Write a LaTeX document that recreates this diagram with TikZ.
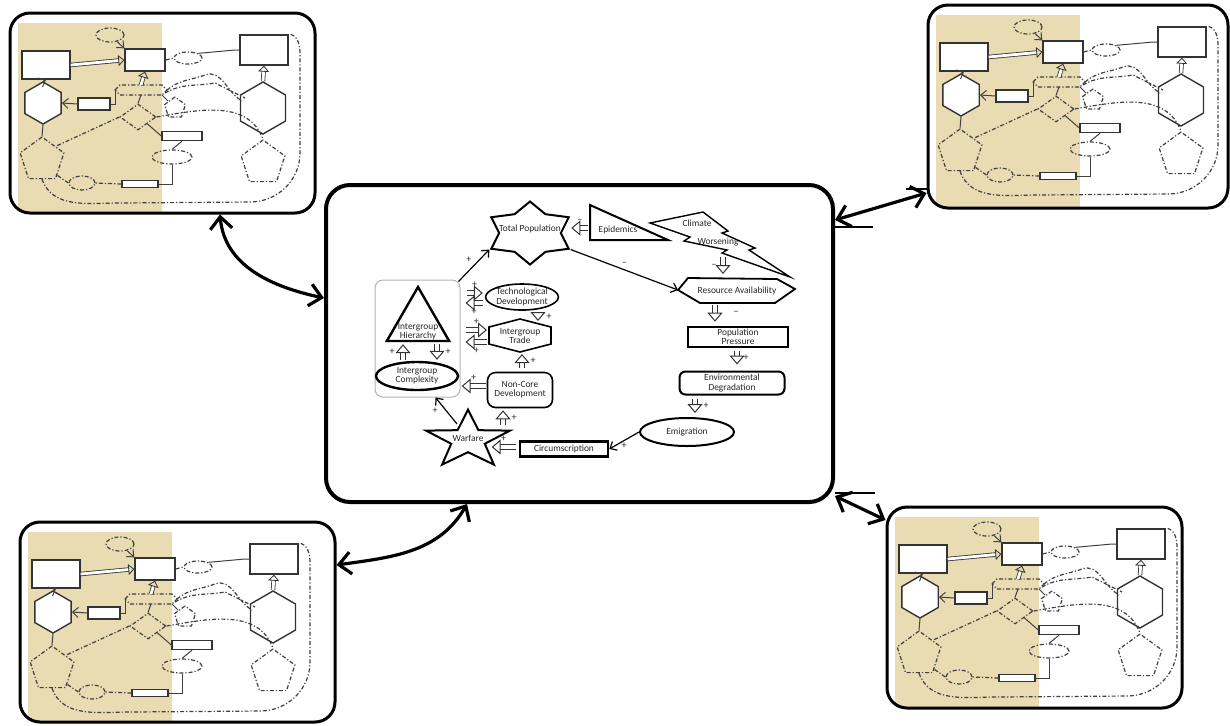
\documentclass[tikz,border=0pt]{standalone}
\usepackage{fontspec}
\setmainfont{Carlito}
\usetikzlibrary{arrows.meta,shapes.geometric}

\definecolor{sand}{RGB}{233,220,178}

\newcommand{\minimap}[2]{%
  \begin{scope}
    \clip[rounded corners=10pt] (0,0) rectangle (#1,#2);
    \fill[sand] (8,10) rectangle (152,#2);
  \end{scope}
  \node[mell,minimum width=14pt,minimum height=7pt] (me1) at (100,22) {};
  \node[mrect,minimum width=20pt,minimum height=11pt] (mr1) at (135,47) {};
  \node[mrect,minimum width=24pt,minimum height=14pt] (mr0) at (36,52) {};
  \node[mrect,minimum width=24pt,minimum height=15pt] (mrt) at (254,37) {};
  \node[mell,minimum width=14pt,minimum height=6pt] (me2) at (178,45) {};
  \draw[mdd] (105,77) -- (110,72) -- (152,72) -- (157,77) -- (152,82) -- (110,82) -- cycle;
  \coordinate (mh1) at (131,77);
  \node[mhex,minimum size=21pt] (mhl) at (33,90) {};
  \node[mrect,minimum width=16pt,minimum height=6pt] (mr2) at (84,91) {};
  \node[mpent,minimum size=11pt] (mp1) at (165,95) {};
  \node[mdia,minimum width=18pt,minimum height=13pt] (md1) at (128,104) {};
  \node[mrect,minimum width=20pt,minimum height=4.5pt] (mr3) at (172,123) {};
  \node[mpent,minimum size=23pt] (mpl) at (32,147) {};
  \node[mell,minimum width=20pt,minimum height=7pt] (me3) at (162,144) {};
  \node[mell,minimum width=13pt,minimum height=7pt] (me4) at (72,170) {};
  \node[mrect,minimum width=18pt,minimum height=3.5pt] (mr4) at (130,171) {};
  \node[mhex,minimum size=26pt] (mhr) at (253,95) {};
  \node[mpent,minimum size=23pt] (mpr) at (253,150) {};
  \draw[mhol] (mr0.east) -- (mr1.west);
  \draw[mline,->] (me1) -- (mr1.north west);
  \draw[mdd] (mr1.east) -- (me2.west);
  \draw[mline] (me2.north east) -- (225,37) -- (mrt.west);
  \draw[mhol] (mh1 |- 0,72) -- (mr1.south);
  \draw[mhol] (mhr.north) -- (mrt.south);
  \draw[mdd] (mpl.south) to[out=-70,in=180] (110,190) -- (240,189) to[out=0,in=-90] (290,140) -- (290,40) to[out=90,in=0] (mrt.north east);
  \draw[mdd] (md1.east) to[out=10,in=110] (mpr.north);
  \draw[mdd] (md1.west) -- (mpl.north east);
  \draw[mdd] (157,77) to[out=40,in=200] (195,62) to[out=20,in=150] (232,88);
  \draw[mdd] (155,80) to[out=30,in=190] (205,70) -- (235,85);
  \draw[mline] (mh1 |- 0,82) -- (md1.north);
  \draw[mline] (md1.south east) -- (mr3.west);
  \draw[mline] (mr3.south) -- (me3.north);
  \draw[mline] (me3.south) |- (mr4.east);
  \draw[mdd] (mr4.west) -- (me4.east);
  \draw[mdd] (me4.west) -- (mpl.south east);
  \draw[mline,->] (mhl.north) -- (mr0.south);
  \draw[mline,<-] (mhl.east) -- (mr2.west);
  \draw[mline] (105,77) |- (mr2.east);
  \draw[mline] (mhl.south) -- (mpl.north);
  \draw[mline] (152,82) -- (mp1.north west);
}

\begin{document}
\begin{tikzpicture}[x=0.5pt,y=-0.5pt,>={Straight Barb[length=2.8pt,width=5pt]},
  every node/.style={font=\fontsize{4.7}{4.6}\selectfont,text=black!85,align=center,inner sep=0pt},
  mline/.style={draw=black!75,line width=0.5pt},
  mdd/.style={mline,line width=0.6pt,dash pattern=on 2pt off 1pt on 0.6pt off 1pt},
  mrect/.style={draw=black!80,line width=0.7pt,fill=white},
  mhex/.style={regular polygon,regular polygon sides=6,shape border rotate=30,draw=black!80,line width=0.7pt,fill=white},
  mpent/.style={regular polygon,regular polygon sides=5,mdd},
  mell/.style={ellipse,mdd},
  mdia/.style={diamond,mdd},
  mhol/.style={draw=black!80,double=white,double distance=1.4pt,line width=0.4pt,-{Triangle[open,line width=0.4pt,length=3pt,width=5.5pt]}},
  map/.style={draw,line width=1.5pt,rounded corners=10pt},
  hol/.style={draw=black!80,double=white,double distance=2.2pt,line width=0.5pt,-{Triangle[open,line width=0.5pt,length=4.5pt,width=7.5pt]}},
  arr/.style={line width=0.6pt,->},
  big/.style={line width=1.6pt,{Straight Barb[length=6pt,width=11pt]}-{Straight Barb[length=6pt,width=11pt]}},
  sgn/.style={font=\fontsize{5}{5}\selectfont}]
\useasboundingbox (0,0) rectangle (1230,725);

\begin{scope}[shift={(10,13)}]\minimap{305}{200}\end{scope}
\node[map,minimum width=152.5pt,minimum height=100pt] (tlmap) at (162.5,113) {};
\begin{scope}[shift={(928,5)}]\minimap{300}{203}\end{scope}
\node[map,minimum width=150pt,minimum height=101.5pt] (trmap) at (1078,106.5) {};
\begin{scope}[shift={(20,522)}]\minimap{315}{200}\end{scope}
\node[map,minimum width=157.5pt,minimum height=100pt] (blmap) at (177.5,622) {};
\begin{scope}[shift={(887,507)}]\minimap{295}{201}\end{scope}
\node[map,minimum width=147.5pt,minimum height=100.5pt] (brmap) at (1034.5,607.5) {};

\node[draw,line width=2pt,rounded corners=12pt,minimum width=253.5pt,minimum height=158.5pt] (core) at (579.5,343.5) {};

\node[star,star points=6,star point ratio=1.45,draw,line width=1pt,minimum size=31.5pt,xscale=1.42] (tpop) at (530,233) {};
\node at (530,229) {Total Population};
\draw[line width=1pt] (590,205) -- (668,240) -- (590,240) -- cycle;
\node (epid) at (618,230) {Epidemics};
\draw[line width=0.7pt] (650,223) -- (703,212) -- (728,231) -- (722,233) -- (755,248) -- (749,250) -- (790,277) -- (722,253) -- (727,250) -- (684,241) -- (690,237) -- cycle;
\node (clim1) at (697,223) {Climate};
\node (clim2) at (718,242) {Worsening};
\draw[line width=0.9pt] (688,278) -- (777,279) -- (795,289) -- (775,303) -- (700,303) -- (678,290) coordinate (resl) -- cycle;
\node (res) at (737,291) {Resource Availability};
\node[draw,line width=1.3pt,minimum width=50pt,minimum height=10pt] (pp) at (738,337) {Population\\Pressure};
\node[draw,line width=1pt,rounded corners=3pt,minimum width=52.5pt,minimum height=11.5pt] (envd) at (732,383) {Environmental\\Degradation};
\node[ellipse,draw,line width=1pt,minimum width=47pt,minimum height=14pt] (emig) at (687,432) {Emigration};
\node[draw,line width=1.3pt,minimum width=44pt,minimum height=7.5pt] (circ) at (564,449) {Circumscription};
\node[star,star points=5,star point ratio=2.5,draw,line width=1pt,minimum size=30.4pt,xscale=1.45] (war) at (468,440) {};
\node at (468,438) {Warfare};
\node[draw,line width=0.8pt,rounded corners=4pt,minimum width=32.5pt,minimum height=17.5pt] (ncd) at (520,390) {Non-Core\\Development};
\draw[line width=0.8pt] (520,319) -- (551,327) -- (551,344) -- (520,352) -- (489,344) -- (489,327) -- cycle;
\node (trade) at (520,336) {Intergroup\\Trade};
\node[ellipse,draw,line width=0.8pt,minimum width=35pt,minimum height=13pt] (tech) at (522,297) {Technological\\Development};
\node[draw=gray!60,line width=0.5pt,rounded corners=4pt,minimum width=42.5pt,minimum height=58.5pt] (igbox) at (417.5,338.5) {};
\node[regular polygon,regular polygon sides=3,draw,line width=1.2pt,minimum size=36pt] (hier) at (418,323) {};
\node at (418,332) {Intergroup\\Hierarchy};
\node[ellipse,draw,line width=1.2pt,minimum width=41pt,minimum height=14pt] (cmplx) at (417,376) {Intergroup\\Complexity};

\draw[hol] ([shift={(-10,-2)}]epid.west) -- ([shift={(-27,-2)}]epid.west) node[midway,above=2.5pt,sgn] {--};
\draw[arr] (tpop.outer point 5) -- (resl) node[midway,above=2pt,sgn] {--};
\draw[hol] ([shift={(5,11)}]clim2.south) -- ([shift={(-14,-17)}]res.center) node[midway,left=3pt,sgn] {--};
\draw[hol] ([shift={(-22,14)}]res.center) -- ([shift={(-23,-4)}]pp.north) node[midway,right=9pt,sgn] {--};
\draw[hol] ([shift={(-1,3)}]pp.south) -- ([shift={(5,-6)}]envd.north) node[midway,right=3pt,sgn] {+};
\draw[hol] ([shift={(-37,3)}]envd.south) -- ([shift={(8,-4)}]emig.north) node[midway,right=4pt,sgn] {+};
\draw[arr] (emig.west) -- (circ.east) node[midway,below=1pt,sgn] {+};
\draw[hol] ([shift={(-3,-2)}]circ.west) -- ([shift={(-27,-2)}]circ.west) node[midway,above=2.5pt,sgn] {+};
\draw[arr] ([shift={(-11,-16)}]war.center) -- ([shift={(18,0)}]igbox.south) node[midway,left=4pt,sgn] {+};
\draw[hol] ([shift={(35,-15)}]war.center) -- ([shift={(-17,2)}]ncd.south) node[midway,right=4pt,sgn] {+};
\draw[hol] ([shift={(-1,-4)}]ncd.west) -- ([shift={(-25,-4)}]ncd.west) node[midway,above=2.5pt,sgn] {+};
\draw[hol] ([shift={(2,-4)}]ncd.north) -- ([shift={(2,18)}]trade.center) node[midway,right=4pt,sgn] {+};
\draw[hol] ([shift={(16,1)}]tech.south) -- ([shift={(18,-15)}]trade.center) node[midway,right=4pt,sgn] {+};
\draw[hol] ([shift={(6,-45.5)}]igbox.east) -- ([shift={(-2,-4)}]tech.west) node[midway,above=2.5pt,sgn] {+};
\draw[hol] ([shift={(-2,6)}]tech.west) -- ([shift={(5,-35.5)}]igbox.east) node[midway,below=2.5pt,sgn] {+};
\draw[hol] ([shift={(5,-8.5)}]igbox.east) -- ([shift={(-33,-6)}]trade.center) node[midway,above=2.5pt,sgn] {+};
\draw[hol] ([shift={(-33,6)}]trade.center) -- ([shift={(5,3.5)}]igbox.east) node[midway,below=2.5pt,sgn] {+};
\draw[arr] ([shift={(-2,2)}]igbox.north east) -- (tpop.outer point 3) node[midway,above left=1pt,sgn] {+};
\draw[hol] ([shift={(-14,-1)}]cmplx.north) -- ([shift={(-15,2)}]hier.south) node[midway,left=4pt,sgn] {+};
\draw[hol] ([shift={(19,2)}]hier.south) -- ([shift={(20,-1)}]cmplx.north) node[midway,right=4pt,sgn] {+};

\draw[big] (220,0 |- tlmap.south) to[out=-85,in=168] (core.west |- 0,298);
\draw[big] (core.south -| 467,0) to[out=-120,in=8] (blmap.east |- 0,565);
\draw[big] (core.east |- 0,220) -- (trmap.west |- 0,193);
\draw[big] (core.east |- 0,496) -- (brmap.west |- 0,520);
\draw[line width=1.3pt] (core.east |- 0,227) -- ++(38,0);
\draw[line width=1.3pt] (906,189) -- (trmap.west |- 0,189);
\draw[line width=1.3pt] (core.east |- 0,493) -- ++(40,0);
\end{tikzpicture}
\end{document}
